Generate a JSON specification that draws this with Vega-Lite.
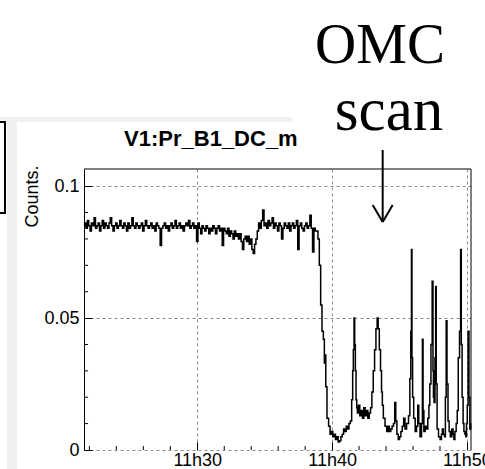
{
  "$schema": "https://vega.github.io/schema/vega-lite/v6.json",
  "width": 387,
  "height": 281,
  "autosize": "none",
  "padding": {"left": 84, "top": 169, "right": 14, "bottom": 19},
  "background": "white",
  "config": {"view": {"stroke": null}},
  "datasets": {
    "series": [
      {"t":21.6,"v":0.085},{"t":21.7,"v":0.086},{"t":21.8,"v":0.084},{"t":21.9,"v":0.087},{"t":22.0,"v":0.085},{"t":22.1,"v":0.083},{"t":22.2,"v":0.086},{"t":22.3,"v":0.085},{"t":22.4,"v":0.088},{"t":22.5,"v":0.084},
      {"t":22.6,"v":0.085},{"t":22.7,"v":0.086},{"t":22.8,"v":0.083},{"t":22.9,"v":0.085},{"t":23.0,"v":0.087},{"t":23.1,"v":0.084},{"t":23.2,"v":0.086},{"t":23.3,"v":0.085},{"t":23.4,"v":0.084},{"t":23.5,"v":0.086},
      {"t":23.6,"v":0.088},{"t":23.7,"v":0.085},{"t":23.8,"v":0.083},{"t":23.9,"v":0.085},{"t":24.0,"v":0.086},{"t":24.1,"v":0.084},{"t":24.2,"v":0.085},{"t":24.3,"v":0.087},{"t":24.4,"v":0.085},{"t":24.5,"v":0.084},
      {"t":24.6,"v":0.086},{"t":24.7,"v":0.085},{"t":24.8,"v":0.083},{"t":24.9,"v":0.086},{"t":25.0,"v":0.084},{"t":25.1,"v":0.085},{"t":25.2,"v":0.088},{"t":25.3,"v":0.085},{"t":25.4,"v":0.084},{"t":25.5,"v":0.086},
      {"t":25.6,"v":0.085},{"t":25.7,"v":0.084},{"t":25.8,"v":0.085},{"t":25.9,"v":0.086},{"t":26.0,"v":0.083},{"t":26.1,"v":0.085},{"t":26.2,"v":0.087},{"t":26.3,"v":0.085},{"t":26.4,"v":0.084},{"t":26.5,"v":0.085},
      {"t":26.6,"v":0.086},{"t":26.7,"v":0.084},{"t":26.8,"v":0.085},{"t":26.9,"v":0.083},{"t":27.0,"v":0.086},
      {"t":27.1,"v":0.085},{"t":27.2,"v":0.084},{"t":27.3,"v":0.0775},{"t":27.4,"v":0.084},{"t":27.5,"v":0.085},{"t":27.6,"v":0.086},{"t":27.7,"v":0.084},{"t":27.8,"v":0.085},{"t":27.9,"v":0.083},{"t":28.0,"v":0.085},
      {"t":28.1,"v":0.086},{"t":28.2,"v":0.084},{"t":28.3,"v":0.085},{"t":28.4,"v":0.087},{"t":28.5,"v":0.084},{"t":28.6,"v":0.085},{"t":28.7,"v":0.086},{"t":28.8,"v":0.084},{"t":28.9,"v":0.085},{"t":29.0,"v":0.083},
      {"t":29.1,"v":0.085},{"t":29.2,"v":0.086},{"t":29.3,"v":0.085},{"t":29.4,"v":0.087},{"t":29.5,"v":0.084},{"t":29.6,"v":0.085},{"t":29.7,"v":0.086},{"t":29.8,"v":0.084},{"t":29.9,"v":0.085},{"t":30.0,"v":0.079},
      {"t":30.1,"v":0.086},{"t":30.2,"v":0.084},{"t":30.3,"v":0.082},{"t":30.4,"v":0.085},{"t":30.5,"v":0.084},{"t":30.6,"v":0.083},{"t":30.7,"v":0.085},{"t":30.8,"v":0.084},{"t":30.9,"v":0.082},{"t":31.0,"v":0.084},
      {"t":31.1,"v":0.083},{"t":31.2,"v":0.085},{"t":31.3,"v":0.084},{"t":31.4,"v":0.082},{"t":31.5,"v":0.084},{"t":31.6,"v":0.085},{"t":31.7,"v":0.083},{"t":31.8,"v":0.084},{"t":31.9,"v":0.0775},{"t":32.0,"v":0.084},
      {"t":32.1,"v":0.083},{"t":32.2,"v":0.082},{"t":32.3,"v":0.084},{"t":32.4,"v":0.081},{"t":32.5,"v":0.083},{"t":32.6,"v":0.082},{"t":32.7,"v":0.080},{"t":32.8,"v":0.083},{"t":32.9,"v":0.081},{"t":33.0,"v":0.082},
      {"t":33.1,"v":0.080},{"t":33.2,"v":0.082},{"t":33.3,"v":0.079},{"t":33.4,"v":0.076},{"t":33.5,"v":0.080},{"t":33.6,"v":0.081},{"t":33.7,"v":0.079},{"t":33.8,"v":0.081},{"t":33.9,"v":0.078},{"t":34.0,"v":0.080},
      {"t":34.1,"v":0.076},{"t":34.2,"v":0.0745},{"t":34.3,"v":0.078},{"t":34.4,"v":0.080},{"t":34.5,"v":0.083},{"t":34.6,"v":0.086},
      {"t":34.7,"v":0.084},{"t":34.8,"v":0.087},{"t":34.9,"v":0.091},{"t":35.0,"v":0.085},{"t":35.1,"v":0.086},{"t":35.2,"v":0.084},{"t":35.3,"v":0.087},{"t":35.4,"v":0.085},{"t":35.5,"v":0.086},{"t":35.6,"v":0.088},
      {"t":35.7,"v":0.084},{"t":35.8,"v":0.086},{"t":35.9,"v":0.085},{"t":36.0,"v":0.083},{"t":36.1,"v":0.086},{"t":36.2,"v":0.085},{"t":36.3,"v":0.080},{"t":36.4,"v":0.084},{"t":36.5,"v":0.086},{"t":36.6,"v":0.085},
      {"t":36.7,"v":0.084},{"t":36.8,"v":0.086},{"t":36.9,"v":0.083},{"t":37.0,"v":0.085},{"t":37.1,"v":0.086},{"t":37.2,"v":0.084},{"t":37.3,"v":0.085},{"t":37.4,"v":0.087},{"t":37.5,"v":0.076},{"t":37.6,"v":0.085},
      {"t":37.7,"v":0.086},{"t":37.8,"v":0.084},{"t":37.9,"v":0.083},{"t":38.0,"v":0.085},{"t":38.1,"v":0.086},{"t":38.2,"v":0.084},{"t":38.3,"v":0.085},{"t":38.4,"v":0.089},{"t":38.5,"v":0.084},{"t":38.6,"v":0.075},
      {"t":38.7,"v":0.084},{"t":38.8,"v":0.083},{"t":38.9,"v":0.083},
      {"t":39.0,"v":0.080},{"t":39.1,"v":0.070},{"t":39.2,"v":0.055},{"t":39.3,"v":0.045},{"t":39.4,"v":0.042},{"t":39.45,"v":0.033},{"t":39.5,"v":0.036},{"t":39.56,"v":0.024},{"t":39.68,"v":0.012},{"t":39.8,"v":0.009},
      {"t":39.9,"v":0.006},{"t":40.0,"v":0.007},{"t":40.1,"v":0.005},{"t":40.2,"v":0.006},{"t":40.3,"v":0.004},{"t":40.4,"v":0.005},{"t":40.5,"v":0.003},{"t":40.6,"v":0.0035},{"t":40.7,"v":0.005},{"t":40.8,"v":0.006},
      {"t":40.9,"v":0.008},{"t":41.0,"v":0.007},{"t":41.1,"v":0.009},{"t":41.2,"v":0.008},{"t":41.3,"v":0.010},{"t":41.4,"v":0.011},{"t":41.5,"v":0.019},{"t":41.55,"v":0.030},{"t":41.6,"v":0.038},{"t":41.65,"v":0.050},
      {"t":41.7,"v":0.040},{"t":41.75,"v":0.030},{"t":41.8,"v":0.019},{"t":41.85,"v":0.016},{"t":41.9,"v":0.014},{"t":42.0,"v":0.017},{"t":42.1,"v":0.013},{"t":42.2,"v":0.015},{"t":42.3,"v":0.012},{"t":42.4,"v":0.016},
      {"t":42.5,"v":0.013},{"t":42.6,"v":0.015},{"t":42.7,"v":0.012},{"t":42.8,"v":0.014},{"t":42.9,"v":0.016},{"t":43.0,"v":0.022},{"t":43.1,"v":0.030},{"t":43.2,"v":0.038},{"t":43.3,"v":0.046},{"t":43.38,"v":0.050},
      {"t":43.45,"v":0.046},{"t":43.55,"v":0.038},{"t":43.63,"v":0.030},{"t":43.7,"v":0.022},{"t":43.75,"v":0.017},{"t":43.85,"v":0.012},{"t":44.0,"v":0.009},{"t":44.1,"v":0.007},{"t":44.2,"v":0.009},{"t":44.3,"v":0.007},
      {"t":44.4,"v":0.008},{"t":44.5,"v":0.009},{"t":44.6,"v":0.010},{"t":44.69,"v":0.018},{"t":44.75,"v":0.011},{"t":44.86,"v":0.006},{"t":44.95,"v":0.004},{"t":45.05,"v":0.005},{"t":45.15,"v":0.007},{"t":45.25,"v":0.009},
      {"t":45.36,"v":0.012},{"t":45.45,"v":0.008},{"t":45.6,"v":0.010},{"t":45.73,"v":0.013},{"t":45.8,"v":0.027},{"t":45.87,"v":0.045},{"t":45.9,"v":0.076},{"t":45.94,"v":0.035},{"t":46.0,"v":0.020},{"t":46.1,"v":0.012},
      {"t":46.22,"v":0.007},{"t":46.3,"v":0.009},{"t":46.4,"v":0.017},{"t":46.45,"v":0.010},{"t":46.59,"v":0.005},{"t":46.67,"v":0.010},{"t":46.72,"v":0.042},{"t":46.77,"v":0.015},{"t":46.84,"v":0.007},{"t":46.95,"v":0.009},
      {"t":47.04,"v":0.008},{"t":47.15,"v":0.012},{"t":47.21,"v":0.017},{"t":47.28,"v":0.025},{"t":47.38,"v":0.040},{"t":47.46,"v":0.064},{"t":47.5,"v":0.030},{"t":47.53,"v":0.020},{"t":47.6,"v":0.018},{"t":47.66,"v":0.035},
      {"t":47.7,"v":0.062},{"t":47.74,"v":0.025},{"t":47.83,"v":0.008},{"t":47.95,"v":0.005},{"t":48.07,"v":0.004},{"t":48.15,"v":0.006},{"t":48.2,"v":0.008},{"t":48.3,"v":0.006},{"t":48.37,"v":0.005},{"t":48.43,"v":0.020},
      {"t":48.49,"v":0.049},{"t":48.55,"v":0.025},{"t":48.64,"v":0.011},{"t":48.72,"v":0.007},{"t":48.81,"v":0.005},{"t":48.94,"v":0.008},{"t":49.0,"v":0.006},{"t":49.06,"v":0.004},{"t":49.15,"v":0.007},{"t":49.25,"v":0.010},
      {"t":49.31,"v":0.015},{"t":49.4,"v":0.035},{"t":49.5,"v":0.045},{"t":49.56,"v":0.076},{"t":49.6,"v":0.040},{"t":49.68,"v":0.020},{"t":49.75,"v":0.010},{"t":49.8,"v":0.007},{"t":49.9,"v":0.006},{"t":49.93,"v":0.005},
      {"t":50.0,"v":0.010},{"t":50.05,"v":0.017},{"t":50.12,"v":0.045},{"t":50.18,"v":0.020},{"t":50.25,"v":0.008},{"t":50.3,"v":0.010}
    ],
    "xminor": [{"m":22},{"m":24},{"m":26},{"m":28},{"m":32},{"m":34},{"m":36},{"m":38},{"m":42},{"m":44},{"m":46},{"m":48}],
    "yminor": [{"c":0.01},{"c":0.02},{"c":0.03},{"c":0.04},{"c":0.06},{"c":0.07},{"c":0.08},{"c":0.09}]
  },
  "layer": [
    {
      "data": {"name": "series"},
      "mark": {"type": "line", "interpolate": "step", "color": "black", "strokeWidth": 1.5},
      "encoding": {
        "x": {
          "field": "t", "type": "quantitative",
          "scale": {"domain": [21.6, 50.3], "nice": false, "zero": false},
          "axis": {
            "title": null,
            "values": [30, 40, 50],
            "labelExpr": "'11h' + datum.value",
            "grid": true, "gridColor": "#8c8c8c", "gridDash": [3, 3], "gridWidth": 1,
            "domain": false,
            "ticks": true, "tickSize": -8, "tickColor": "black", "tickWidth": 1,
            "labelFont": "Liberation Sans", "labelFontSize": 18, "labelColor": "black",
            "labelPadding": 9, "labelFlush": false, "labelOverlap": false
          }
        },
        "y": {
          "field": "v", "type": "quantitative",
          "scale": {"domain": [0, 0.1065], "nice": false, "zero": false},
          "axis": {
            "title": "Counts.",
            "values": [0, 0.05, 0.1],
            "format": "~g",
            "grid": true, "gridColor": "#8c8c8c", "gridDash": [3, 3], "gridWidth": 1,
            "domain": true, "domainColor": "black", "domainWidth": 1,
            "ticks": true, "tickSize": -8, "tickColor": "black", "tickWidth": 1,
            "labelFont": "Liberation Sans", "labelFontSize": 18, "labelColor": "black",
            "labelPadding": 13, "labelFlush": false, "labelOverlap": false,
            "titleFont": "Liberation Sans", "titleFontSize": 18, "titleFontWeight": "normal", "titleColor": "black",
            "titleAngle": -90, "titleAlign": "right", "titleBaseline": "middle",
            "titleX": -52, "titleY": -4
          }
        }
      }
    },
    {
      "data": {"name": "xminor"},
      "mark": {"type": "rule", "color": "black", "strokeWidth": 1},
      "encoding": {
        "x": {"field": "m", "type": "quantitative"},
        "y": {"datum": 0, "type": "quantitative"},
        "y2": {"datum": 0.0015}
      }
    },
    {
      "data": {"name": "yminor"},
      "mark": {"type": "rule", "color": "black", "strokeWidth": 1},
      "encoding": {
        "y": {"field": "c", "type": "quantitative"},
        "x": {"datum": 21.6, "type": "quantitative"},
        "x2": {"datum": 21.9}
      }
    },
    {
      "data": {"values": [{}]},
      "mark": {"type": "rect", "fill": "#f0f0f0"},
      "encoding": {
        "x": {"datum": 15.2, "type": "quantitative"},
        "x2": {"datum": 37.03},
        "y": {"datum": 0.1243, "type": "quantitative"},
        "y2": {"datum": 0.1262}
      }
    },
    {
      "data": {"values": [{}]},
      "mark": {"type": "rect", "fill": "#f0f0f0"},
      "encoding": {
        "x": {"datum": 15.89, "type": "quantitative"},
        "x2": {"datum": 16.63},
        "y": {"datum": -0.008, "type": "quantitative"},
        "y2": {"datum": 0.1262}
      }
    },
    {
      "data": {"values": [{}]},
      "mark": {"type": "rect", "fill": "white", "stroke": "black", "strokeWidth": 2},
      "encoding": {
        "x": {"datum": 15.0, "type": "quantitative"},
        "x2": {"datum": 15.74},
        "y": {"datum": 0.0898, "type": "quantitative"},
        "y2": {"datum": 0.1243}
      }
    },
    {
      "data": {"values": [{}]},
      "mark": {"type": "rule", "color": "black", "strokeWidth": 1},
      "encoding": {
        "x": {"datum": 21.6, "type": "quantitative"},
        "x2": {"datum": 50.3},
        "y": {"datum": 0.1065, "type": "quantitative"}
      }
    },
    {
      "data": {"values": [{}]},
      "mark": {"type": "rule", "color": "black", "strokeWidth": 1},
      "encoding": {
        "x": {"datum": 50.3, "type": "quantitative"},
        "y": {"datum": 0, "type": "quantitative"},
        "y2": {"datum": 0.1065}
      }
    },
    {
      "data": {"values": [{}]},
      "mark": {"type": "text", "text": "V1:Pr_B1_DC_m", "font": "Liberation Sans", "fontWeight": "bold", "fontSize": 22, "align": "left", "baseline": "alphabetic", "color": "black"},
      "encoding": {
        "x": {"datum": 24.57, "type": "quantitative"},
        "y": {"datum": 0.1152, "type": "quantitative"}
      }
    },
    {
      "data": {"values": [{}]},
      "mark": {"type": "text", "text": "OMC", "font": "Liberation Serif", "fontSize": 57, "align": "center", "baseline": "alphabetic", "color": "black"},
      "encoding": {
        "x": {"datum": 43.55, "type": "quantitative"},
        "y": {"datum": 0.1467, "type": "quantitative"}
      }
    },
    {
      "data": {"values": [{}]},
      "mark": {"type": "text", "text": "scan", "font": "Liberation Serif", "fontSize": 61, "align": "center", "baseline": "alphabetic", "color": "black"},
      "encoding": {
        "x": {"datum": 44.22, "type": "quantitative"},
        "y": {"datum": 0.1213, "type": "quantitative"}
      }
    },
    {
      "data": {"values": [{}]},
      "mark": {"type": "rule", "color": "black", "strokeWidth": 2},
      "encoding": {
        "x": {"datum": 43.75, "type": "quantitative"},
        "y": {"datum": 0.0864, "type": "quantitative"},
        "y2": {"datum": 0.1137}
      }
    },
    {
      "data": {"values": [{}]},
      "mark": {"type": "rule", "color": "black", "strokeWidth": 2},
      "encoding": {
        "x": {"datum": 43.01, "type": "quantitative"},
        "x2": {"datum": 43.75},
        "y": {"datum": 0.0929, "type": "quantitative"},
        "y2": {"datum": 0.0864}
      }
    },
    {
      "data": {"values": [{}]},
      "mark": {"type": "rule", "color": "black", "strokeWidth": 2},
      "encoding": {
        "x": {"datum": 44.49, "type": "quantitative"},
        "x2": {"datum": 43.75},
        "y": {"datum": 0.0929, "type": "quantitative"},
        "y2": {"datum": 0.0864}
      }
    }
  ]
}
